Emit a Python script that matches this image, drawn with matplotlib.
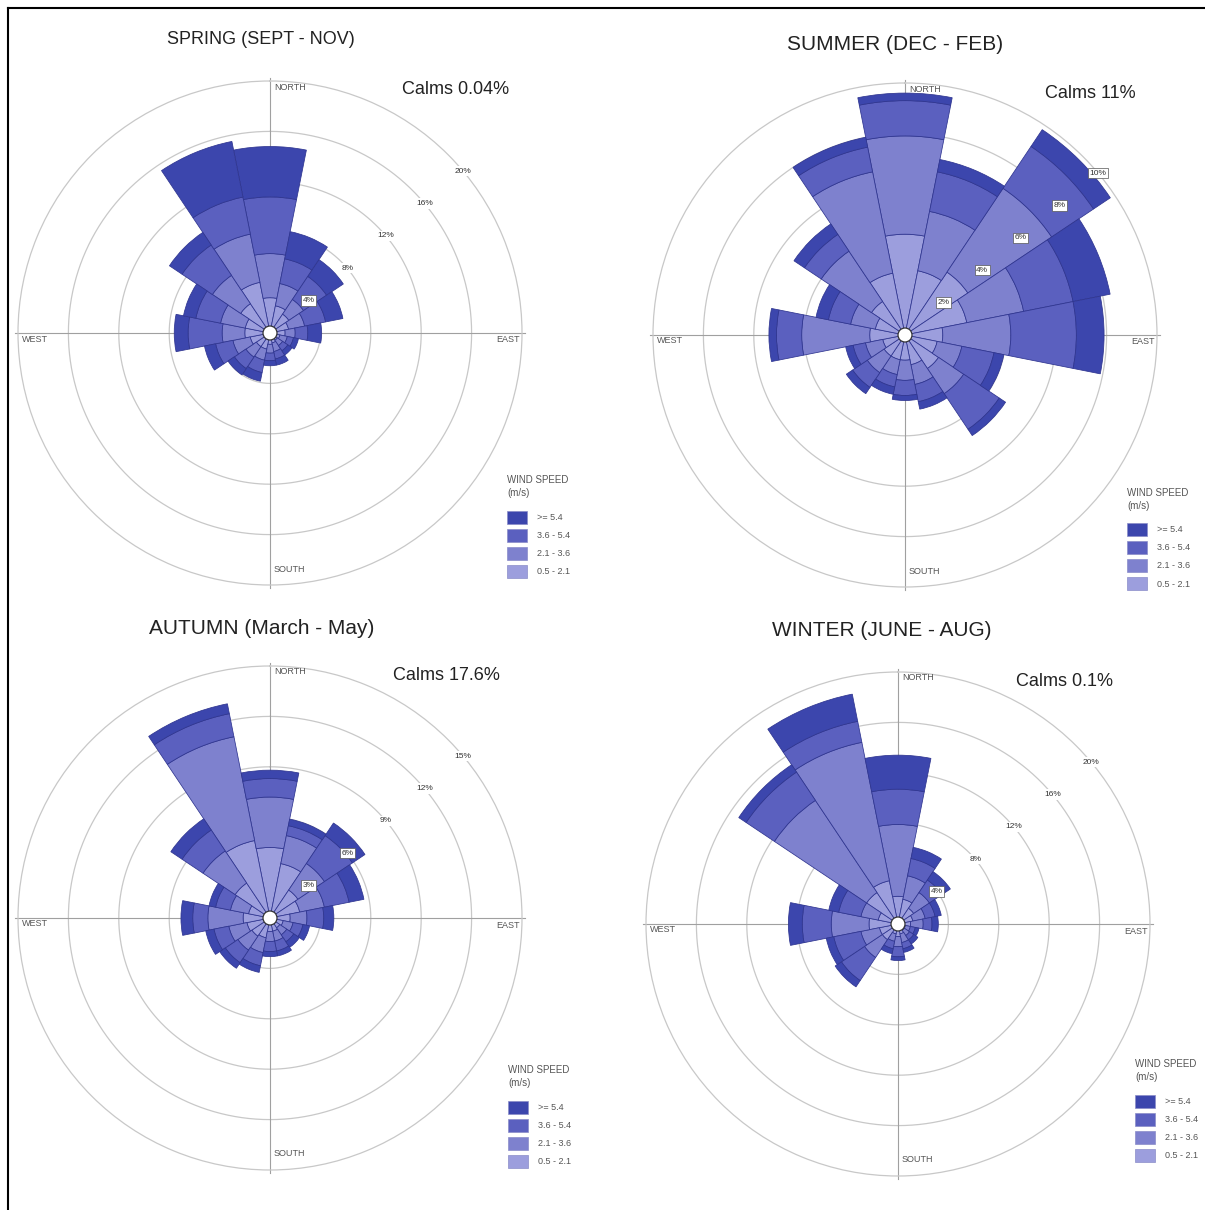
import numpy as np
import matplotlib
matplotlib.use('Agg')
import matplotlib.pyplot as plt
from matplotlib.patches import Circle, Rectangle
from matplotlib.lines import Line2D

plt.rcParams['font.family'] = ['Liberation Sans', 'DejaVu Sans']

# ---------------- data ----------------
directions = ['N', 'NNE', 'NE', 'ENE', 'E', 'ESE', 'SE', 'SSE',
              'S', 'SSW', 'SW', 'WSW', 'W', 'WNW', 'NW', 'NNW']
speed_labels = ['>= 5.4', '3.6 - 5.4', '2.1 - 3.6', '0.5 - 2.1']  # legend order (top to bottom)

# Spring (Sept - Nov), % frequency per speed class
spring_05_21 = [2.8, 2.2, 1.8, 1.5, 1.2, 0.8, 0.7, 0.8, 0.9, 1.3, 1.3, 1.6, 2.0, 2.0, 2.8, 4.1]
spring_21_36 = [3.5, 1.8, 1.4, 1.3, 0.8, 0.6, 0.5, 0.7, 0.7, 0.9, 1.0, 1.4, 1.8, 2.0, 2.7, 3.9]
spring_36_54 = [4.5, 2.0, 2.2, 1.7, 1.0, 0.5, 0.5, 0.6, 0.6, 1.0, 1.1, 1.4, 2.7, 2.0, 2.9, 3.0]
spring_54_up = [4.0, 2.2, 1.6, 1.4, 1.1, 0.4, 0.4, 0.5, 0.4, 0.7, 0.6, 0.9, 1.1, 1.0, 1.2, 4.5]

# Summer (Dec - Feb)
summer_05_21 = [4.0, 2.6, 3.0, 2.5, 1.5, 1.3, 1.6, 1.2, 1.0, 1.0, 1.0, 0.9, 1.4, 1.2, 1.6, 2.5]
summer_21_36 = [3.9, 2.4, 4.0, 2.3, 2.7, 1.0, 1.2, 0.8, 0.8, 0.6, 0.8, 0.7, 2.7, 1.0, 2.4, 4.1]
summer_36_54 = [1.4, 1.6, 2.0, 2.0, 2.6, 1.3, 1.7, 0.7, 0.6, 0.5, 0.7, 0.5, 1.0, 0.9, 0.8, 1.0]
summer_54_up = [0.3, 0.5, 0.8, 1.5, 1.1, 0.4, 0.3, 0.3, 0.2, 0.3, 0.3, 0.3, 0.3, 0.5, 0.5, 0.4]

# Autumn (March - May)
autumn_05_21 = [4.2, 3.3, 2.0, 1.8, 1.2, 0.8, 0.7, 0.8, 0.8, 1.2, 1.3, 1.4, 1.6, 1.3, 2.5, 4.7]
autumn_21_36 = [3.0, 1.7, 1.9, 1.5, 1.0, 0.6, 0.5, 0.6, 0.6, 0.9, 1.0, 1.1, 2.1, 1.1, 2.3, 6.3]
autumn_36_54 = [1.1, 0.6, 2.0, 1.5, 1.0, 0.6, 0.5, 0.6, 0.6, 0.8, 0.9, 0.9, 0.9, 0.9, 1.5, 1.4]
autumn_54_up = [0.5, 0.4, 0.9, 0.9, 0.6, 0.4, 0.4, 0.3, 0.3, 0.4, 0.4, 0.5, 0.7, 0.4, 0.8, 0.6]

# Winter (June - Aug)
winter_05_21 = [2.2, 2.0, 1.5, 1.2, 1.0, 0.6, 0.6, 0.8, 1.0, 0.8, 1.5, 1.5, 2.3, 1.6, 3.0, 3.5]
winter_21_36 = [5.7, 1.9, 1.5, 1.0, 1.0, 0.4, 0.5, 0.7, 0.8, 0.6, 1.7, 1.5, 3.0, 1.4, 8.8, 11.2]
winter_36_54 = [2.8, 1.4, 1.2, 0.8, 0.7, 0.4, 0.4, 0.5, 0.8, 0.6, 2.2, 2.2, 2.3, 1.8, 2.7, 1.7]
winter_54_up = [2.7, 0.9, 0.8, 0.5, 0.5, 0.3, 0.4, 0.3, 0.3, 0.4, 0.6, 0.6, 1.1, 0.8, 0.7, 2.2]

titles = ['SPRING (SEPT - NOV)', 'SUMMER (DEC - FEB)', 'AUTUMN (March - May)', 'WINTER (JUNE - AUG)']
calms = ['Calms 0.04%', 'Calms 11%', 'Calms 17.6%', 'Calms 0.1%']
ring_values = [[4, 8, 12, 16, 20], [2, 4, 6, 8, 10], [3, 6, 9, 12, 15], [4, 8, 12, 16, 20]]

# ---------------- styling ----------------
class_colors = ['#9c9edd', '#7e81ce', '#5b60bf', '#3c46ad']  # 0.5-2.1 ... >=5.4
edge_color = '#2f3590'

W, H = 1205, 1210
fig = plt.figure(figsize=(W / 100, H / 100), dpi=100)


def fx(x):
    return x / W


def fy(y):
    return 1 - y / H


panels = [
    dict(center=(270, 333), radius=252, title_xy=(261, 40), title_size=13, calms_xy=(456, 90),
         legend_xy=(507, 480), classes=[spring_05_21, spring_21_36, spring_36_54, spring_54_up]),
    dict(center=(905, 335), radius=252, title_xy=(895, 45), title_size=15, calms_xy=(1090, 93),
         legend_xy=(1127, 493), classes=[summer_05_21, summer_21_36, summer_36_54, summer_54_up]),
    dict(center=(270, 918), radius=252, title_xy=(262, 628), title_size=15, calms_xy=(446, 676),
         legend_xy=(508, 1070), classes=[autumn_05_21, autumn_21_36, autumn_36_54, autumn_54_up]),
    dict(center=(898, 924), radius=252, title_xy=(882, 630), title_size=15, calms_xy=(1064, 681),
         legend_xy=(1135, 1064), classes=[winter_05_21, winter_21_36, winter_36_54, winter_54_up]),
]

theta = np.deg2rad(np.arange(len(directions)) * 360.0 / len(directions))
width = np.deg2rad(360.0 / len(directions))

for p, title, calm, rings in zip(panels, titles, calms, ring_values):
    cx, cy = p['center']
    r = p['radius']
    rmax = rings[-1]
    ax = fig.add_axes([fx(cx - r), fy(cy + r), 2 * r / W, 2 * r / H], projection='polar')
    ax.set_theta_zero_location('N')
    ax.set_theta_direction(-1)
    ax.set_ylim(0, rmax)
    ax.grid(False)
    ax.set_xticks([])
    ax.set_yticks([])
    ax.patch.set_alpha(0)
    ax.spines['polar'].set_color('#c8c8c8')
    ax.spines['polar'].set_linewidth(0.9)

    tt = np.linspace(0, 2 * np.pi, 721)
    for rv in rings[:-1]:
        ax.plot(tt, np.full_like(tt, rv), color='#c8c8c8', lw=0.9, zorder=0)
    for th in [0, np.pi / 2, np.pi, 3 * np.pi / 2]:
        ax.plot([th, th], [0, rmax * 1.01], color='#a0a0a0', lw=0.8, zorder=0.5, clip_on=False)

    bottom = np.zeros(len(directions))
    for vals, col in zip(p['classes'], class_colors):
        vals = np.array(vals)
        ax.bar(theta, vals, width=width, bottom=bottom, color=col, edgecolor=edge_color,
               linewidth=0.55, zorder=2)
        bottom = bottom + vals
    ne_total = bottom[2]

    ax.add_patch(Circle((0.5, 0.5), 7.0 / (2 * r), transform=ax.transAxes, facecolor='white',
                        edgecolor='#333333', lw=0.9, zorder=6))

    # ring labels
    for rv in rings:
        inside = rv <= ne_total + 0.5
        ax.text(np.deg2rad(50), rv, f'{rv}%', fontsize=6, ha='center', va='center', color='#333333',
                zorder=7,
                bbox=dict(boxstyle='square,pad=0.2', facecolor='white',
                          edgecolor='#555555' if inside else 'none', lw=0.5))

    # compass labels
    fig.text(fx(cx + 4), fy(cy - r + 6), 'NORTH', fontsize=6.5, color='#555555', ha='left', va='center')
    fig.text(fx(cx + 4), fy(cy + r - 16), 'SOUTH', fontsize=6.5, color='#555555', ha='left', va='center')
    fig.text(fx(cx + r - 2), fy(cy + 7), 'EAST', fontsize=6.5, color='#555555', ha='right', va='center')
    fig.text(fx(cx - r + 4), fy(cy + 6), 'WEST', fontsize=6.5, color='#555555', ha='left', va='center')

    # title and calms
    fig.text(fx(p['title_xy'][0]), fy(p['title_xy'][1]), title, fontsize=p['title_size'], ha='center',
             va='center', color='#222222')
    fig.text(fx(p['calms_xy'][0]), fy(p['calms_xy'][1]), calm, fontsize=13, ha='center', va='center',
             color='#222222')

    # legend
    lx, ly = p['legend_xy']
    fig.text(fx(lx), fy(ly), 'WIND SPEED', fontsize=7, ha='left', va='center', color='#555555')
    fig.text(fx(lx), fy(ly + 13), '(m/s)', fontsize=7, ha='left', va='center', color='#555555')
    for i, (lab, col) in enumerate(zip(speed_labels, class_colors[::-1])):
        yc = ly + 37 + i * 18
        fig.add_artist(Rectangle((fx(lx), fy(yc + 6.5)), 20 / W, 13 / H, transform=fig.transFigure,
                                 facecolor=col, edgecolor='#8a8cc8', lw=0.5))
        fig.text(fx(lx + 30), fy(yc), lab, fontsize=6.5, ha='left', va='center', color='#555555')

# frame lines (top and left)
fig.add_artist(Line2D([fx(8), fx(8)], [fy(8), fy(1210)], color='black', lw=1.5, transform=fig.transFigure))
fig.add_artist(Line2D([fx(8), fx(1205)], [fy(8), fy(8)], color='black', lw=1.5, transform=fig.transFigure))

fig.savefig('out.png', dpi=100, facecolor='white')
